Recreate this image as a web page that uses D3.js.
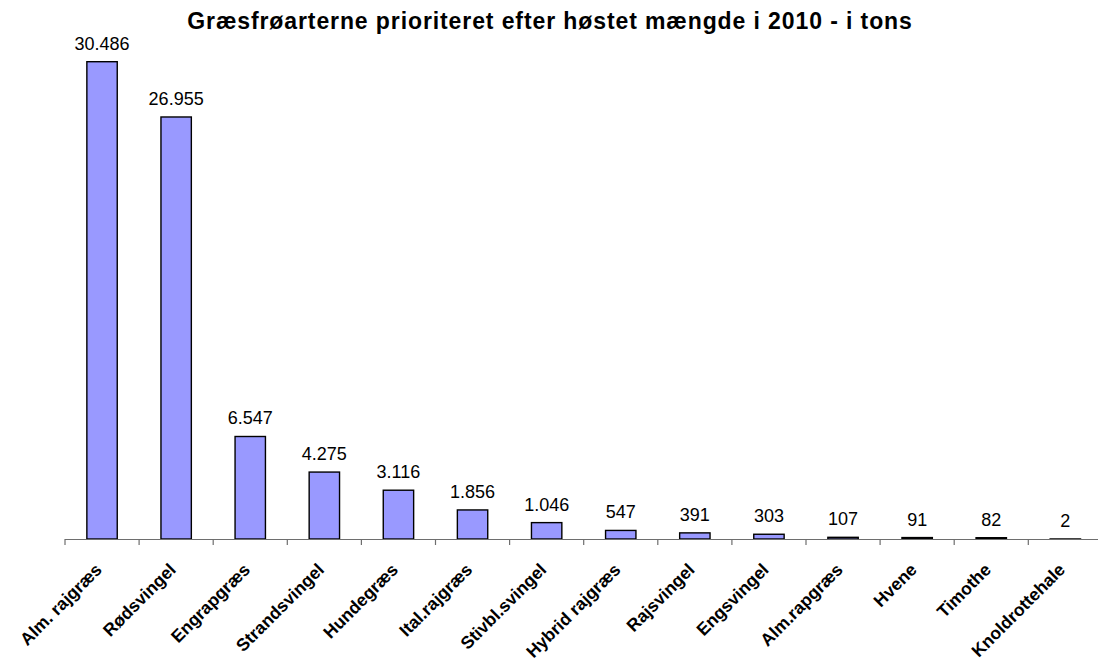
<!DOCTYPE html>
<meta charset="utf-8">
<head>
    <style>
        body { margin: 0; background: #fff; }
        text { font-family: Arial, "Liberation Sans", sans-serif; }
    </style>
</head>
<body>
    <div id="chart"></div>

    <script src="https://d3js.org/d3.v7.min.js"></script>
    <script>
        // data
        let categories = ['Alm. rajgræs', 'Rødsvingel', 'Engrapgræs', 'Strandsvingel', 'Hundegræs',
                          'Ital.rajgræs', 'Stivbl.svingel', 'Hybrid rajgræs', 'Rajsvingel', 'Engsvingel',
                          'Alm.rapgræs', 'Hvene', 'Timothe', 'Knoldrottehale'];
        let tons = [30486, 26955, 6547, 4275, 3116, 1856, 1046, 547, 391, 303, 107, 91, 82, 2];
        let title = 'Græsfrøarterne prioriteret efter høstet mængde i 2010 - i tons';

        // chart default setting
        let svgWidth = 1098;
        let svgHeight = 664;
        let plot = {left: 65, right: 1102.4, top: 61.7, bottom: 539};

        let data = categories.map((c, i) => ({name: c, value: tons[i]}));

        // danish number format: 30.486
        let fmt = d3.formatLocale({decimal: ',', thousands: '.', grouping: [3], currency: ['', ' kr']}).format(',d');

        let svg = d3.select('#chart')
                    .append('svg')
                    .attr('width', svgWidth)
                    .attr('height', svgHeight);

        // Define Scalers
        let x = d3.scaleBand()
                  .domain(categories)
                  .range([plot.left, plot.right])
                  .paddingInner(0.59)
                  .paddingOuter(0.295);
        let xTicks = d3.scaleBand().domain(categories).range([plot.left, plot.right]);

        let y = d3.scaleLinear()
                  .domain([0, d3.max(tons)])
                  .range([plot.bottom, plot.top]);

        // title
        svg.append('text')
           .attr('x', 550)
           .attr('y', 29)
           .attr('text-anchor', 'middle')
           .style('font-weight', 'bold')
           .style('font-size', '23px')
           .style('letter-spacing', '0.9px')
           .text(title);

        // bars
        svg.selectAll('rect.bar')
           .data(data)
           .enter()
           .append('rect')
           .attr('class', 'bar')
           .attr('x', d => x(d.name))
           .attr('y', d => y(d.value))
           .attr('width', x.bandwidth())
           .attr('height', d => y(0) - y(d.value))
           .style('fill', '#9999ff')
           .style('stroke', '#000')
           .style('stroke-width', 1.4);

        // value labels
        svg.selectAll('text.val')
           .data(data)
           .enter()
           .append('text')
           .attr('class', 'val')
           .attr('x', d => x(d.name) + x.bandwidth() / 2)
           .attr('y', d => y(d.value) - 12)
           .attr('text-anchor', 'middle')
           .style('font-size', '18px')
           .text(d => fmt(d.value));

        // x axis line and ticks between categories
        let axis = svg.append('g').attr('id', 'xaxis');
        axis.append('line')
            .attr('x1', plot.left).attr('x2', plot.right)
            .attr('y1', plot.bottom + 0.5).attr('y2', plot.bottom + 0.5)
            .style('stroke', '#6e6e6e').style('stroke-width', 1.2);
        axis.selectAll('line.tick')
            .data(categories)
            .enter()
            .append('line')
            .attr('class', 'tick')
            .attr('x1', d => xTicks(d)).attr('x2', d => xTicks(d))
            .attr('y1', plot.bottom).attr('y2', plot.bottom + 6)
            .style('stroke', '#6e6e6e').style('stroke-width', 1.2);

        // rotated category labels
        axis.selectAll('text')
            .data(categories)
            .enter()
            .append('text')
            .attr('transform', d => `translate(${xTicks(d) + xTicks.bandwidth() / 2 - 8}, 562) rotate(-45)`)
            .attr('dy', '0.71em')
            .attr('text-anchor', 'end')
            .style('font-weight', 'bold')
            .style('font-size', '17.5px')
            .text(d => d);
    </script>
</body>
